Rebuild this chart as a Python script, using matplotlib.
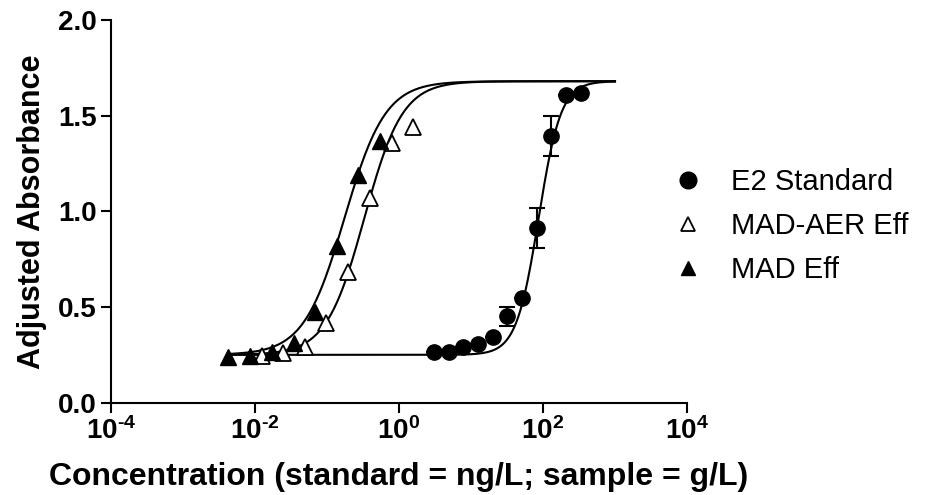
import numpy as np
import matplotlib
matplotlib.use('Agg')
import matplotlib.pyplot as plt
from matplotlib.lines import Line2D

plt.rcParams['font.family'] = 'Liberation Sans'
plt.rcParams['mathtext.fontset'] = 'custom'
plt.rcParams['mathtext.rm'] = 'Liberation Sans'
plt.rcParams['mathtext.bf'] = 'Liberation Sans:bold'

# E2 standard (ng/L)
e2_conc = [3.05, 4.88, 7.81, 12.5, 20.0, 32.0, 51.2, 81.9, 131.0, 210.0, 336.0]
e2_abs = [0.263, 0.263, 0.293, 0.305, 0.341, 0.452, 0.546, 0.914, 1.395, 1.608, 1.617]
e2_err = [0, 0, 0, 0, 0, 0.05, 0, 0.103, 0.104, 0, 0]

# MAD-AER effluent (g/L)
aer_conc = [0.0124, 0.0247, 0.049, 0.097, 0.198, 0.395, 0.79, 1.55]
aer_abs = [0.244, 0.258, 0.293, 0.415, 0.681, 1.068, 1.355, 1.442]

# MAD effluent (g/L)
mad_conc = [0.00425, 0.00853, 0.0171, 0.0348, 0.068, 0.136, 0.272, 0.544]
mad_abs = [0.237, 0.244, 0.266, 0.313, 0.472, 0.820, 1.19, 1.367]

# 4PL fit parameters: bottom, top, EC50, hill slope
e2_fit = [0.25, 1.68, 87.0, 2.8]
aer_fit = [0.25, 1.68, 0.33, 1.64]
mad_fit = [0.25, 1.68, 0.175, 1.53]

curve_range = [10**-2.37, 1e3]
xticks = [1e-4, 1e-2, 1e0, 1e2, 1e4]
xticklabels = ['$\\mathbf{10^{\u20104}}$', '$\\mathbf{10^{\u20102}}$', r'$\mathbf{10^{0}}$',
               r'$\mathbf{10^{2}}$', r'$\mathbf{10^{4}}$']
yticks = [0.0, 0.5, 1.0, 1.5, 2.0]
legend_labels = ['E2 Standard', 'MAD-AER Eff', 'MAD Eff']


def four_pl(x, p):
    bottom, top, ec50, hill = p
    return bottom + (top - bottom) / (1 + (ec50 / x) ** hill)


fig = plt.figure(figsize=(9.27, 4.95), dpi=100)
ax = fig.add_axes([111 / 927, 1 - 402.7 / 495, 576 / 927, 382.7 / 495])

xs = np.logspace(np.log10(curve_range[0]), np.log10(curve_range[1]), 400)
for p in (e2_fit, aer_fit, mad_fit):
    ax.plot(xs, four_pl(xs, p), color='k', lw=1.5, zorder=2)

ax.errorbar(e2_conc, e2_abs, yerr=e2_err, fmt='o', color='k', ms=11,
            capsize=6, elinewidth=1.5, capthick=1.5, zorder=3)
ax.plot(aer_conc, aer_abs, '^', mfc='white', mec='k', mew=1.3, ms=12, zorder=4)
ax.plot(mad_conc, mad_abs, '^', color='k', ms=12, zorder=5)

ax.set_xscale('log')
ax.set_xlim(1e-4, 1e4)
ax.set_ylim(0, 2.0)
ax.set_xticks(xticks)
ax.set_xticklabels(xticklabels)
ax.minorticks_off()
ax.set_yticks(yticks)
ax.set_yticklabels(['%.1f' % v for v in yticks])
ax.tick_params(labelsize=20, width=1.5, length=7, direction='out')
for lab in ax.get_yticklabels():
    lab.set_fontweight('bold')

for s in ('top', 'right'):
    ax.spines[s].set_visible(False)
for s in ('left', 'bottom'):
    ax.spines[s].set_linewidth(1.5)

ax.set_xlabel('Concentration (standard = ng/L; sample = g/L)', fontsize=23,
              fontweight='bold', labelpad=12)
ax.set_ylabel('Adjusted Absorbance', fontsize=22, fontweight='bold', labelpad=8)

handles = [
    Line2D([], [], ls='none', marker='o', color='k', ms=12),
    Line2D([], [], ls='none', marker='^', mfc='white', mec='k', mew=1.3, ms=10.5),
    Line2D([], [], ls='none', marker='^', color='k', ms=10.5),
]
fig.legend(handles, legend_labels, loc='center left', bbox_to_anchor=(673 / 927, 1 - 226 / 495),
           frameon=False, fontsize=21, handlelength=1.0, handletextpad=1.0,
           labelspacing=0.54, borderpad=0, borderaxespad=0)

fig.savefig('out.png', dpi=100)
